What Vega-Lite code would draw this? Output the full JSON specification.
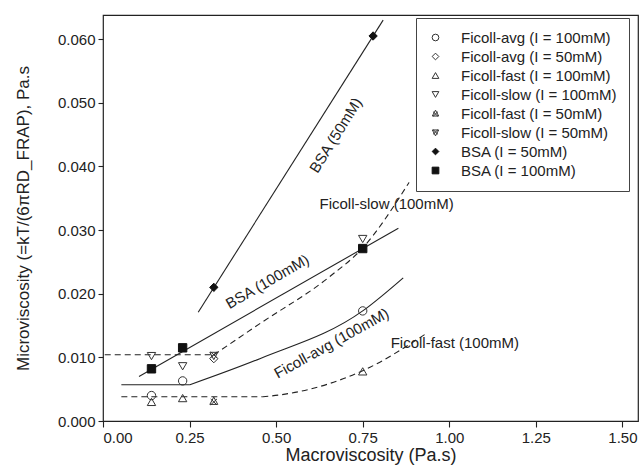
{
  "$schema": "https://vega.github.io/schema/vega-lite/v6.json",
  "width": 535,
  "height": 406,
  "autosize": {"type": "none"},
  "padding": {"left": 103, "top": 15, "right": 1, "bottom": 46},
  "background": "white",
  "config": {
    "view": {"stroke": "#222", "strokeWidth": 1.2},
    "axis": {
      "domain": false, "grid": false, "labelOverlap": false,
      "labelFont": "Liberation Sans", "labelFontSize": 15, "labelColor": "#222",
      "titleFont": "Liberation Sans", "titleFontSize": 17, "titleFontWeight": "normal", "titleColor": "#222",
      "tickColor": "#222", "tickWidth": 1.1
    },
    "text": {"font": "Liberation Sans", "fontSize": 15, "fill": "#222"}
  },
  "datasets": {
    "pts": [
      {"series": "Ficoll-avg (I = 100mM)", "x": 0.14, "y": 0.0040},
      {"series": "Ficoll-avg (I = 100mM)", "x": 0.23, "y": 0.0063},
      {"series": "Ficoll-avg (I = 100mM)", "x": 0.75, "y": 0.0173},
      {"series": "Ficoll-avg (I = 50mM)", "x": 0.32, "y": 0.0098},
      {"series": "Ficoll-fast (I = 100mM)", "x": 0.14, "y": 0.0030},
      {"series": "Ficoll-fast (I = 100mM)", "x": 0.23, "y": 0.0036},
      {"series": "Ficoll-fast (I = 100mM)", "x": 0.75, "y": 0.0078},
      {"series": "Ficoll-slow (I = 100mM)", "x": 0.14, "y": 0.0102},
      {"series": "Ficoll-slow (I = 100mM)", "x": 0.23, "y": 0.0086},
      {"series": "Ficoll-slow (I = 100mM)", "x": 0.75, "y": 0.0286},
      {"series": "Ficoll-fast (I = 50mM)", "x": 0.32, "y": 0.0031},
      {"series": "Ficoll-slow (I = 50mM)", "x": 0.32, "y": 0.0103},
      {"series": "BSA (I = 50mM)", "x": 0.32, "y": 0.0210},
      {"series": "BSA (I = 50mM)", "x": 0.78, "y": 0.0605},
      {"series": "BSA (I = 100mM)", "x": 0.14, "y": 0.0082},
      {"series": "BSA (I = 100mM)", "x": 0.23, "y": 0.0115},
      {"series": "BSA (I = 100mM)", "x": 0.75, "y": 0.0271}
    ],
    "lines": [
      {"curve": "BSA50", "x": 0.275, "y": 0.0171},
      {"curve": "BSA50", "x": 0.809, "y": 0.0630},
      {"curve": "BSA100", "x": 0.104, "y": 0.0070},
      {"curve": "BSA100", "x": 0.853, "y": 0.0303},
      {"curve": "avg_flat", "x": 0.053, "y": 0.0057},
      {"curve": "avg_flat", "x": 0.251, "y": 0.0057},
      {"curve": "avg_curve", "x": 0.251, "y": 0.0057},
      {"curve": "avg_curve", "x": 0.453, "y": 0.0098},
      {"curve": "avg_curve", "x": 0.75, "y": 0.0173},
      {"curve": "avg_curve", "x": 0.867, "y": 0.0225},
      {"curve": "slow_flat", "x": 0.005, "y": 0.0104},
      {"curve": "slow_flat", "x": 0.32, "y": 0.0104},
      {"curve": "slow_curve", "x": 0.32, "y": 0.0104},
      {"curve": "slow_curve", "x": 0.453, "y": 0.0153},
      {"curve": "slow_curve", "x": 0.655, "y": 0.0227},
      {"curve": "slow_curve", "x": 0.75, "y": 0.0272},
      {"curve": "slow_curve", "x": 0.884, "y": 0.0375},
      {"curve": "fast_flat", "x": 0.053, "y": 0.0038},
      {"curve": "fast_flat", "x": 0.46, "y": 0.0038},
      {"curve": "fast_curve", "x": 0.46, "y": 0.0038},
      {"curve": "fast_curve", "x": 0.511, "y": 0.0041},
      {"curve": "fast_curve", "x": 0.655, "y": 0.0059},
      {"curve": "fast_curve", "x": 0.75, "y": 0.0079},
      {"curve": "fast_curve", "x": 0.935, "y": 0.0138}
    ],
    "labels": [
      {"label": "BSA (50mM)", "x": 0.672, "y": 0.0449},
      {"label": "BSA (100mM)", "x": 0.475, "y": 0.0219},
      {"label": "Ficoll-avg (100mM)", "x": 0.66, "y": 0.0122},
      {"label": "Ficoll-slow (100mM)", "x": 0.819, "y": 0.0341},
      {"label": "Ficoll-fast (100mM)", "x": 1.016, "y": 0.0122}
    ]
  },
  "layer": [
    {
      "data": {"name": "lines"},
      "transform": [{"filter": "datum.curve == 'BSA50' || datum.curve == 'BSA100' || datum.curve == 'avg_flat'"}],
      "mark": {"type": "line", "stroke": "#222", "strokeWidth": 1.1},
      "encoding": {
        "x": {"field": "x", "type": "quantitative", "scale": {"domain": [0, 1.545], "nice": false, "zero": false},
              "axis": {"orient": "bottom", "values": [0, 0.25, 0.5, 0.75, 1, 1.25, 1.5], "format": ".2f", "ticks": true, "tickSize": 6, "labelPadding": 3, "labelOverlap": false, "title": "Macroviscosity (Pa.s)", "titleFontSize": 18, "titlePadding": 1}},
        "y": {"field": "y", "type": "quantitative", "scale": {"domain": [0, 0.0638], "nice": false, "zero": false},
              "axis": {"orient": "left", "values": [0, 0.005, 0.01, 0.015, 0.02, 0.025, 0.03, 0.035, 0.04, 0.045, 0.05, 0.055, 0.06], "format": ".3f", "ticks": true, "tickSize": 5, "labelPadding": 3, "labelOverlap": false, "title": "Microviscosity (=kT/(6πRD_FRAP), Pa.s", "titlePadding": 25}},
        "detail": {"field": "curve"}
      }
    },
    {
      "data": {"name": "lines"},
      "transform": [{"filter": "datum.curve == 'avg_curve'"}],
      "mark": {"type": "line", "stroke": "#222", "strokeWidth": 1.1, "interpolate": "monotone"},
      "encoding": {
        "x": {"field": "x", "type": "quantitative", "scale": {"domain": [0, 1.545], "nice": false, "zero": false}},
        "y": {"field": "y", "type": "quantitative", "scale": {"domain": [0, 0.0638], "nice": false, "zero": false}}
      }
    },
    {
      "data": {"name": "lines"},
      "transform": [{"filter": "datum.curve == 'slow_flat' || datum.curve == 'fast_flat' || datum.curve == 'slow_curve' || datum.curve == 'fast_curve'"}],
      "mark": {"type": "line", "stroke": "#222", "strokeWidth": 1.1, "strokeDash": [6, 4], "interpolate": "monotone"},
      "encoding": {
        "x": {"field": "x", "type": "quantitative", "scale": {"domain": [0, 1.545], "nice": false, "zero": false}},
        "y": {"field": "y", "type": "quantitative", "scale": {"domain": [0, 0.0638], "nice": false, "zero": false}},
        "detail": {"field": "curve"}
      }
    },
    {
      "data": {"name": "pts"},
      "mark": {"type": "point", "size": 70, "strokeWidth": 1, "opacity": 1, "filled": false},
      "encoding": {
        "x": {"field": "x", "type": "quantitative", "scale": {"domain": [0, 1.545], "nice": false, "zero": false}},
        "y": {"field": "y", "type": "quantitative", "scale": {"domain": [0, 0.0638], "nice": false, "zero": false}},
        "shape": {"field": "series", "type": "nominal",
          "scale": {
            "domain": ["Ficoll-avg (I = 100mM)", "Ficoll-avg (I = 50mM)", "Ficoll-fast (I = 100mM)", "Ficoll-slow (I = 100mM)", "Ficoll-fast (I = 50mM)", "Ficoll-slow (I = 50mM)", "BSA (I = 50mM)", "BSA (I = 100mM)"],
            "range": ["circle", "diamond", "triangle-up", "triangle-down", "M0,-1L0.95,0.75L-0.95,0.75Z M-0.75,-0.55L0.75,0.85 M0.75,-0.55L-0.75,0.85", "M0,1L0.95,-0.75L-0.95,-0.75Z M-0.75,0.55L0.75,-0.85 M0.75,0.55L-0.75,-0.85", "diamond", "square"]
          },
          "legend": {
            "title": null, "orient": "none", "legendX": 313, "legendY": 3,
            "padding": 12, "strokeColor": "#444", "fillColor": "white",
            "labelFont": "Liberation Sans", "labelFontSize": 15, "labelColor": "#222",
            "labelOffset": 18, "symbolOffset": 0, "rowPadding": 3, "symbolSize": 45,
            "symbolStrokeWidth": 1, "labelLimit": 400
          }
        },
        "fill": {"field": "series", "type": "nominal",
          "scale": {
            "domain": ["Ficoll-avg (I = 100mM)", "Ficoll-avg (I = 50mM)", "Ficoll-fast (I = 100mM)", "Ficoll-slow (I = 100mM)", "Ficoll-fast (I = 50mM)", "Ficoll-slow (I = 50mM)", "BSA (I = 50mM)", "BSA (I = 100mM)"],
            "range": ["transparent", "transparent", "transparent", "transparent", "transparent", "transparent", "#111", "#111"]
          },
          "legend": {
            "title": null, "orient": "none", "legendX": 313, "legendY": 3,
            "padding": 12, "strokeColor": "#444", "fillColor": "white",
            "labelFont": "Liberation Sans", "labelFontSize": 15, "labelColor": "#222",
            "labelOffset": 18, "symbolOffset": 0, "rowPadding": 3, "symbolSize": 45,
            "symbolStrokeWidth": 1, "labelLimit": 400
          }
        },
        "stroke": {"field": "series", "type": "nominal",
          "scale": {
            "domain": ["Ficoll-avg (I = 100mM)", "Ficoll-avg (I = 50mM)", "Ficoll-fast (I = 100mM)", "Ficoll-slow (I = 100mM)", "Ficoll-fast (I = 50mM)", "Ficoll-slow (I = 50mM)", "BSA (I = 50mM)", "BSA (I = 100mM)"],
            "range": ["#333", "#333", "#333", "#333", "#333", "#333", "#111", "#111"]
          },
          "legend": {
            "title": null, "orient": "none", "legendX": 313, "legendY": 3,
            "padding": 12, "strokeColor": "#444", "fillColor": "white",
            "labelFont": "Liberation Sans", "labelFontSize": 15, "labelColor": "#222",
            "labelOffset": 18, "symbolOffset": 0, "rowPadding": 3, "symbolSize": 45,
            "symbolStrokeWidth": 1, "labelLimit": 400
          }
        }
      }
    },
    {
      "data": {"name": "labels"},
      "transform": [{"filter": "datum.label == 'Ficoll-slow (100mM)' || datum.label == 'Ficoll-fast (100mM)'"}],
      "mark": {"type": "text", "align": "center", "baseline": "middle"},
      "encoding": {
        "x": {"field": "x", "type": "quantitative", "scale": {"domain": [0, 1.545], "nice": false, "zero": false}},
        "y": {"field": "y", "type": "quantitative", "scale": {"domain": [0, 0.0638], "nice": false, "zero": false}},
        "text": {"field": "label"}
      }
    },
    {
      "data": {"name": "labels"},
      "transform": [{"filter": "datum.label == 'BSA (50mM)'"}],
      "mark": {"type": "text", "align": "center", "baseline": "middle", "angle": 302},
      "encoding": {
        "x": {"field": "x", "type": "quantitative", "scale": {"domain": [0, 1.545], "nice": false, "zero": false}},
        "y": {"field": "y", "type": "quantitative", "scale": {"domain": [0, 0.0638], "nice": false, "zero": false}},
        "text": {"field": "label"}
      }
    },
    {
      "data": {"name": "labels"},
      "transform": [{"filter": "datum.label == 'BSA (100mM)'"}],
      "mark": {"type": "text", "align": "center", "baseline": "middle", "angle": 330},
      "encoding": {
        "x": {"field": "x", "type": "quantitative", "scale": {"domain": [0, 1.545], "nice": false, "zero": false}},
        "y": {"field": "y", "type": "quantitative", "scale": {"domain": [0, 0.0638], "nice": false, "zero": false}},
        "text": {"field": "label"}
      }
    },
    {
      "data": {"name": "labels"},
      "transform": [{"filter": "datum.label == 'Ficoll-avg (100mM)'"}],
      "mark": {"type": "text", "align": "center", "baseline": "middle", "angle": 331},
      "encoding": {
        "x": {"field": "x", "type": "quantitative", "scale": {"domain": [0, 1.545], "nice": false, "zero": false}},
        "y": {"field": "y", "type": "quantitative", "scale": {"domain": [0, 0.0638], "nice": false, "zero": false}},
        "text": {"field": "label"}
      }
    }
  ]
}
